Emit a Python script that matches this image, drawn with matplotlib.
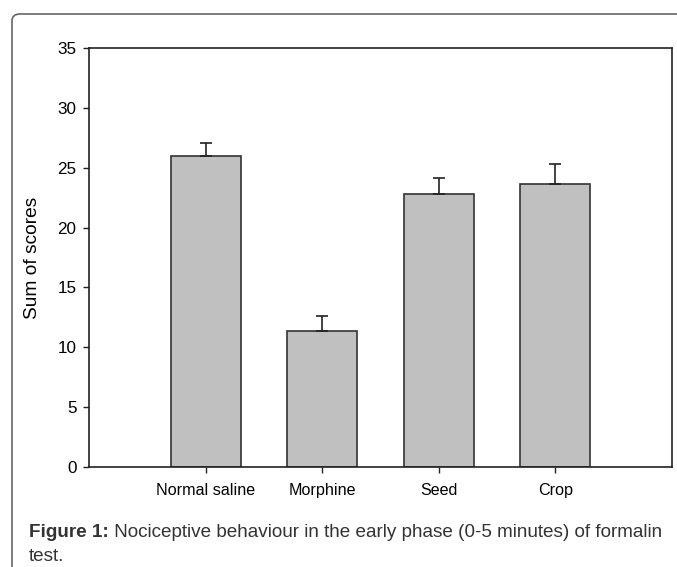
import matplotlib
matplotlib.use("Agg")
import matplotlib.pyplot as plt
from matplotlib.patches import FancyBboxPatch

plt.rcParams['font.family'] = ['Liberation Sans', 'DejaVu Sans']

groups = ['Normal saline', 'Morphine', 'Seed', 'Crop']
scores = [26.0, 11.4, 22.8, 23.6]
errors = [1.1, 1.2, 1.3, 1.7]
yticks = [0, 5, 10, 15, 20, 25, 30, 35]

fig = plt.figure(figsize=(6.77, 5.67), dpi=100)

# outer rounded frame of the figure panel
frame = FancyBboxPatch((12 / 677, -0.1), 1.2, (567 - 14) / 567 + 0.1,
                       boxstyle="round,pad=0,rounding_size=0.012",
                       transform=fig.transFigure, facecolor='none',
                       edgecolor='#666666', linewidth=1.2)
fig.patches.append(frame)

ax = fig.add_axes([89 / 677, 1 - 467 / 567, (672 - 89) / 677, (467 - 48) / 567])

x = range(len(groups))
ax.bar(x, scores, width=0.6, color='#c0c0c0', edgecolor='#333333', linewidth=1.2)
ax.errorbar(x, scores, yerr=[[0] * len(errors), errors], fmt='none',
            ecolor='#222222', elinewidth=1.2, capsize=4.3, capthick=1.2)

ax.set_xlim(-1, 4)
ax.set_ylim(0, 35)
ax.set_yticks(yticks)
ax.set_xticks(list(x))
ax.set_xticklabels(groups)
ax.tick_params(direction='out', length=4.5, width=1, color='#222222')
ax.tick_params(axis='y', labelsize=12.3, pad=4.5)
ax.tick_params(axis='x', labelsize=11.6, pad=7)
ax.set_ylabel('Sum of scores', fontsize=13.8, labelpad=12)
for s in ax.spines.values():
    s.set_linewidth(1.2)
    s.set_color('#222222')

cap_size = 13.6
t1 = fig.text(29 / 677, 1 - 537 / 567, 'Figure 1:', fontsize=cap_size,
              fontweight='bold', color='#333333', va='baseline')
ax.annotate(' Nociceptive behaviour in the early phase (0-5 minutes) of formalin',
            xy=(1, 0), xycoords=t1, va='bottom', ha='left',
            fontsize=cap_size, color='#333333', annotation_clip=False)
fig.text(29 / 677, 1 - 561 / 567, 'test.', fontsize=cap_size, color='#333333',
         va='baseline')

fig.savefig('out.png', dpi=100)
